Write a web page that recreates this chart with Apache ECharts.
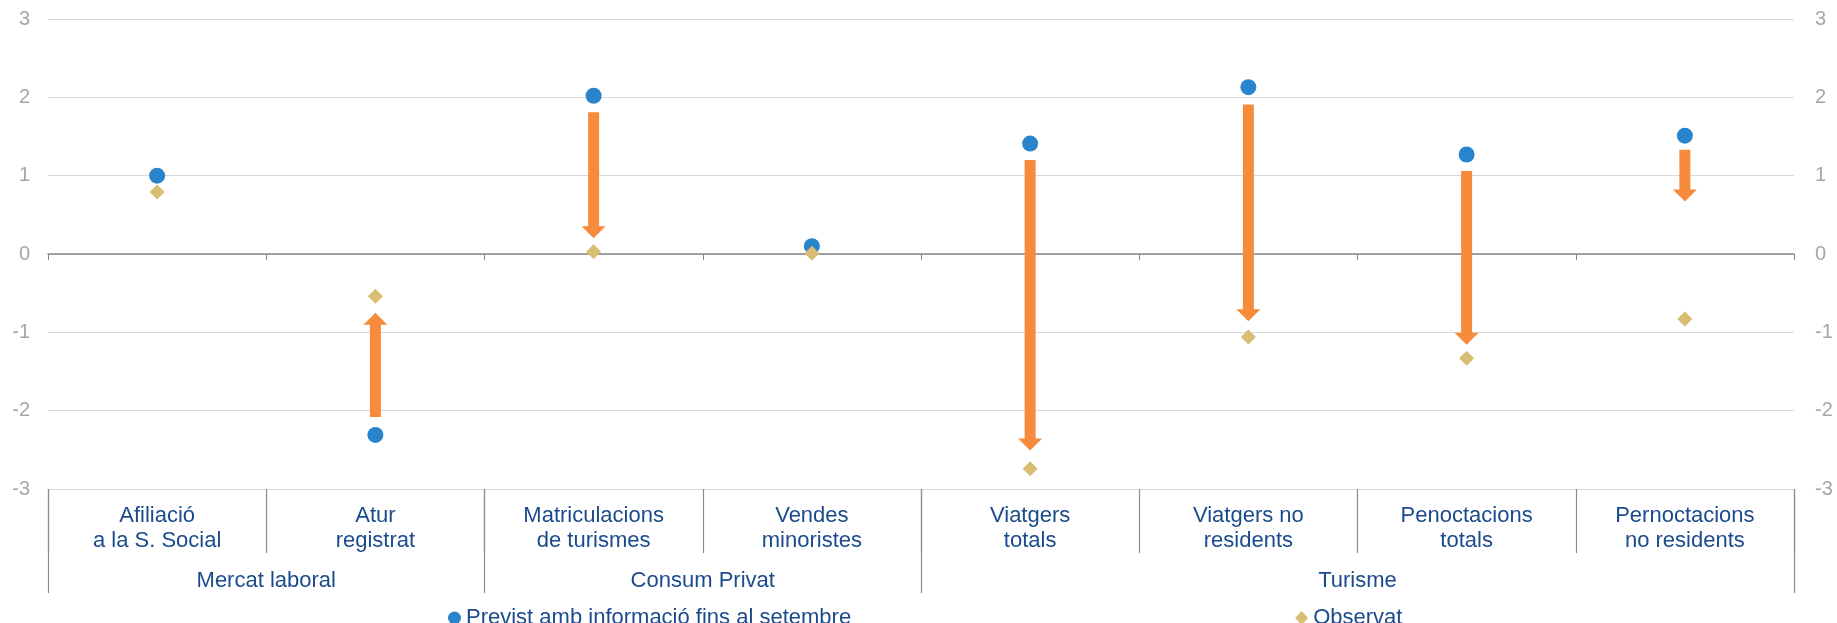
<!DOCTYPE html>
<html>
<head>
<meta charset="utf-8">
<title>Previst vs observat</title>
<script src="https://cdn.jsdelivr.net/npm/echarts@6/dist/echarts.min.js"></script>
<style>
  html, body { margin: 0; padding: 0; background: #ffffff; }
  #chart { width: 1837px; height: 623px; }
</style>
</head>
<body>
<div id="chart"></div>
<script>
// Indicators (two-line labels) and the block each belongs to
const categories = [
  'Afiliació\na la S. Social',
  'Atur\nregistrat',
  'Matriculacions\nde turismes',
  'Vendes\nminoristes',
  'Viatgers\ntotals',
  'Viatgers no\nresidents',
  'Penoctacions\ntotals',
  'Pernoctacions\nno residents'
];
const groupNames = ['Mercat laboral', 'Consum Privat', 'Turisme'];
const groupCenters = [1, 3, 6];        // positions on the 0..8 category scale
const groupBounds = [0, 2, 4, 8];

// Forecast with information up to September, and observed values
const previst  = [1.00, -2.31, 2.02, 0.10, 1.41, 2.13, 1.27, 1.51];
const observat = [0.79, -0.54, 0.03, 0.01, -2.74, -1.06, -1.33, -0.83];

// Revision arrows: start and tip value for each indicator (null = no arrow)
const arrowFrom = [null, -2.08, 1.81, null, 1.20, 1.91, 1.06, 1.33];
const arrowTo   = [null, -0.75, 0.20, null, -2.51, -0.86, -1.16, 0.67];

const yTicks = [-3, -2, -1, 0, 1, 2, 3];

const FONT = '"Liberation Sans", Arial, sans-serif';
const TEXT_BLUE = '#1b4b8c';
const AXIS_GREY = '#a6a6a6';

const arrowData = [];
arrowFrom.forEach((v, i) => {
  if (v !== null && arrowTo[i] !== null) arrowData.push([i, v, arrowTo[i]]);
});

function renderArrow(params, api) {
  const p0 = api.coord([api.value(0), api.value(1)]);
  const p1 = api.coord([api.value(0), api.value(2)]);
  const x = p0[0];
  const dir = p1[1] > p0[1] ? 1 : -1;      // +1 pointing down on screen
  const shaftW = 11, headW = 24, headL = 12;
  const yTail = p0[1];
  const yTip = p1[1];
  const yNeck = yTip - dir * headL;
  const pts = [
    [x - shaftW / 2, yTail],
    [x + shaftW / 2, yTail],
    [x + shaftW / 2, yNeck],
    [x + headW / 2, yNeck],
    [x, yTip],
    [x - headW / 2, yNeck],
    [x - shaftW / 2, yNeck]
  ];
  return {
    type: 'polygon',
    shape: { points: pts },
    style: { fill: '#f68b3b' }
  };
}

const chart = echarts.init(document.getElementById('chart'), null, { renderer: 'canvas' });

chart.setOption({
  animation: false,
  textStyle: { fontFamily: FONT },
  grid: { left: 48, right: 43, top: 19, height: 470, containLabel: false },
  legend: {
    data: ['Previst amb informació fins al setembre', 'Observat'],
    left: 448,
    top: 607,
    padding: 0,
    itemGap: 444,
    itemWidth: 13,
    itemHeight: 14,
    textStyle: { fontSize: 22, color: TEXT_BLUE, fontFamily: FONT }
  },
  xAxis: [
    {
      // zero line with small boundary ticks
      type: 'category',
      data: categories,
      position: 'bottom',
      axisLine: { show: true, onZero: true, lineStyle: { color: '#868686', width: 1.5 } },
      axisTick: { show: true, length: 6, lineStyle: { color: '#868686' } },
      axisLabel: { show: false },
      splitLine: { show: false }
    },
    {
      // indicator labels below the plot
      type: 'category',
      data: categories,
      position: 'bottom',
      axisLine: { show: false, onZero: false },
      axisTick: { show: true, length: 64, lineStyle: { color: '#8c8c8c', width: 1.2 } },
      axisLabel: {
        interval: 0,
        margin: 14,
        fontSize: 22,
        lineHeight: 25,
        color: TEXT_BLUE,
        fontFamily: FONT
      },
      splitLine: { show: false }
    },
    {
      // block labels and block dividers
      type: 'value',
      min: 0,
      max: 8,
      position: 'bottom',
      axisLine: { show: false, onZero: false },
      axisTick: {
        show: true,
        customValues: groupBounds,
        length: 104,
        lineStyle: { color: '#8c8c8c', width: 1.2 }
      },
      axisLabel: {
        customValues: groupCenters,
        formatter: (v) => groupNames[groupCenters.indexOf(v)] || '',
        margin: 81,
        fontSize: 22,
        lineHeight: 22,
        color: TEXT_BLUE,
        fontFamily: FONT
      },
      splitLine: { show: false }
    }
  ],
  yAxis: [
    {
      type: 'value',
      min: -3,
      max: 3,
      interval: 1,
      position: 'left',
      axisLine: { show: false, onZero: false },
      axisTick: { show: false },
      axisLabel: { margin: 18, fontSize: 20, color: AXIS_GREY, fontFamily: FONT },
      splitLine: { show: true, lineStyle: { color: '#d9d9d9', width: 1.2 } }
    },
    {
      type: 'value',
      min: -3,
      max: 3,
      interval: 1,
      position: 'right',
      axisLine: { show: false, onZero: false },
      axisTick: { show: false },
      axisLabel: { margin: 21, fontSize: 20, color: AXIS_GREY, fontFamily: FONT },
      splitLine: { show: false }
    }
  ],
  series: [
    {
      name: 'Revisió',
      type: 'custom',
      xAxisIndex: 0,
      yAxisIndex: 0,
      renderItem: renderArrow,
      data: arrowData,
      z: 2
    },
    {
      name: 'Previst amb informació fins al setembre',
      type: 'scatter',
      xAxisIndex: 0,
      yAxisIndex: 0,
      symbol: 'circle',
      symbolSize: 16,
      itemStyle: { color: '#2a84cc', opacity: 1 },
      data: previst,
      z: 4
    },
    {
      name: 'Observat',
      type: 'scatter',
      xAxisIndex: 0,
      yAxisIndex: 0,
      symbol: 'diamond',
      symbolSize: 15,
      itemStyle: { color: '#d8bd72', opacity: 1 },
      data: observat,
      z: 5
    }
  ]
});
</script>
</body>
</html>
